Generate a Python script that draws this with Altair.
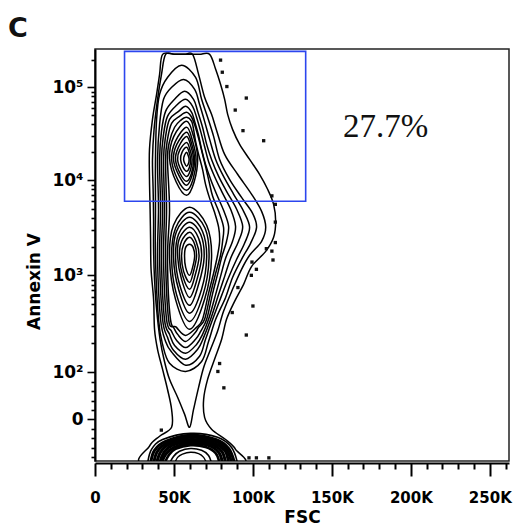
import math
import altair as alt
import pandas as pd

# ---------------- data (FSC in thousands, Annexin V in fluorescence units) ----------------
CLOSED_CONTOURS = {
    "c1": [(42.8, 229000), (50.4, 229000), (59.9, 229000), (66.2, 229000), (72.6, 229000), (76.4, 157000),
           (79.5, 107800), (82.1, 74100), (84.0, 51000), (87.1, 35100), (91.6, 24200), (97.9, 16700),
           (104.2, 11600), (109.3, 8030), (113.1, 5560), (114.4, 3670), (113.1, 2500), (108.1, 1780),
           (99.2, 1240), (94.1, 806), (88.4, 536), (83.3, 350), (80.2, 218), (75.7, 136), (71.3, 85),
           (68.8, 43), (69.4, 4), (73.8, -21), (82.7, -43), (89.0, -64), (91.6, -96), (31.4, -96),
           (34.5, -57), (40.9, -36), (48.5, -17), (48.5, 21), (45.9, 64), (42.8, 107), (39.6, 172),
           (37.7, 276), (37.1, 563), (35.5, 1155), (35.2, 2380), (34.9, 4930), (34.5, 10250),
           (34.5, 21400), (36.4, 45000), (39.0, 83900), (40.9, 138500)],
    "c2": [(44.7, 229000), (50.4, 229000), (56.7, 229000), (61.8, 229000), (65.6, 138500), (69.4, 77900),
           (73.8, 51000), (77.0, 34200), (82.1, 18900), (90.3, 11600), (99.2, 7100), (105.5, 4690),
           (108.1, 3180), (105.5, 2270), (97.9, 1620), (92.8, 1155), (87.1, 715), (81.4, 423),
           (77.6, 263), (73.2, 172), (68.8, 112), (65.6, 68), (62.4, 21), (59.9, -17), (56.7, 11),
           (52.3, 47), (47.2, 85), (44.0, 129), (41.2, 218), (39.0, 444), (37.7, 908), (37.1, 1870),
           (37.1, 3860), (36.8, 8030), (36.4, 16700), (37.4, 35100), (39.6, 74100), (42.1, 138500)],
    "c3": [(54.8, 174000), (63.7, 128000), (67.5, 74100), (71.3, 47400), (75.1, 29500), (78.9, 16700),
           (85.2, 10250), (92.8, 6590), (99.8, 4470), (102.3, 3180), (98.5, 2160), (92.8, 1470),
           (87.1, 951), (82.7, 589), (76.4, 350), (71.9, 207), (67.5, 129), (57.4, 102), (47.2, 124),
           (42.8, 193), (40.2, 350), (38.3, 1470), (38.3, 4930), (38.3, 16700), (39.0, 45000),
           (40.9, 83900), (45.9, 128000)],
    "c4": [(56.1, 122000), (63.1, 95100), (66.2, 65400), (69.4, 42800), (72.6, 27400), (76.4, 16700),
           (81.4, 11000), (87.8, 7100), (94.1, 4690), (97.9, 3180), (94.7, 2160), (89.7, 1470),
           (84.6, 951), (80.2, 619), (74.5, 350), (70.0, 218), (66.2, 146), (57.4, 118), (48.5, 161),
           (44.7, 207), (41.5, 350), (39.6, 1470), (40.2, 4930), (39.6, 16700), (40.9, 39800),
           (43.4, 74100), (48.5, 100000)],
    "c5": [(56.7, 90500), (62.4, 74100), (65.0, 54900), (68.1, 37000), (70.7, 24200), (73.8, 16700),
           (78.3, 11000), (83.3, 7640), (89.7, 4930), (93.5, 3260), (90.9, 2270), (85.9, 1510),
           (82.1, 975), (78.3, 634), (73.2, 350), (68.8, 228), (65.0, 172), (57.4, 136), (49.7, 168),
           (45.9, 228), (42.8, 350), (40.9, 1470), (41.5, 4930), (40.9, 16700), (42.1, 33400),
           (44.7, 54900), (50.4, 74100)],
    "c6": [(57.4, 74100), (61.8, 62200), (64.3, 47400), (66.9, 33400), (69.4, 23000), (71.9, 15900),
           (75.7, 11000), (80.2, 7640), (85.9, 4930), (89.0, 3260), (87.1, 2270), (82.7, 1510),
           (79.5, 975), (76.4, 634), (71.9, 350), (68.1, 245), (64.3, 193), (57.4, 157), (50.4, 188),
           (47.2, 245), (44.0, 350), (42.1, 1470), (42.8, 4930), (42.1, 16700), (43.4, 31000),
           (45.9, 48500), (51.6, 63800)],
    "c7": [(57.4, 62200), (61.2, 53600), (63.1, 42800), (65.6, 30200), (67.5, 21400), (70.0, 14800),
           (73.2, 10250), (77.0, 7100), (81.4, 4810), (84.6, 3260), (83.3, 2270), (80.2, 1540),
           (77.6, 1024), (74.5, 650), (70.7, 350), (66.9, 263), (63.7, 218), (57.4, 179), (51.6, 213),
           (48.5, 263), (45.3, 350), (43.4, 1470), (44.0, 4930), (43.4, 16700), (44.7, 29500),
           (47.2, 45000), (52.9, 54900)],
    "c8": [(58.0, 53600), (61.2, 47400), (63.4, 37900), (65.6, 28100), (67.8, 19900), (70.0, 14100),
           (72.2, 9760), (74.5, 6760), (78.3, 4690), (81.4, 3180), (80.8, 2270), (79.5, 1620),
           (76.4, 1050), (73.2, 650), (69.4, 350), (65.6, 289), (63.1, 251), (57.4, 207), (52.3, 245),
           (49.7, 289), (46.6, 350), (44.7, 1470), (45.3, 4930), (44.7, 16700), (45.9, 27400),
           (48.5, 40800), (53.5, 48500)],
    "c9": [(58.0, 47400), (61.2, 42800), (62.4, 35100), (63.7, 26100), (65.6, 18900), (68.1, 13100),
           (70.0, 9070), (72.6, 6430), (75.7, 4580), (78.3, 3180), (78.9, 2270), (77.6, 1620),
           (75.1, 1050), (71.9, 650), (68.1, 350), (64.3, 289), (57.4, 239), (51.6, 289), (47.8, 350),
           (45.9, 1470), (47.2, 4930), (45.9, 16700), (47.2, 26100), (50.4, 37000), (54.2, 43900)],
    # upper (Annexin-high) population
    "u1": [(58.0, 42800), (62.4, 29500), (65.0, 17100), (62.7, 9530), (58.0, 6930), (51.5, 9530), (47.2, 17100), (49.9, 29500)],
    "u2": [(58.0, 37000), (61.8, 26100), (64.0, 16700), (62.1, 10250), (58.0, 7830), (52.3, 10250), (48.5, 16700), (50.9, 26100)],
    "u3": [(58.0, 32600), (61.3, 24200), (63.1, 16700), (61.5, 11300), (58.0, 8850), (53.1, 11300), (49.7, 16700), (51.8, 24200)],
    "u4": [(58.0, 29500), (60.9, 22500), (62.4, 16700), (61.1, 11900), (58.0, 9760), (53.8, 11900), (51.0, 16700), (52.8, 22500)],
    "u5": [(58.0, 25400), (60.2, 21100), (61.5, 16700), (60.4, 12800), (58.0, 11000), (54.6, 12800), (52.3, 16700), (53.7, 21100)],
    "u6": [(58.0, 22500), (59.6, 19900), (60.5, 16700), (59.8, 13800), (58.0, 12500), (55.7, 13800), (54.2, 16700), (55.1, 19900)],
    "u7": [(58.0, 19900), (59.0, 18400), (59.6, 16700), (59.1, 15000), (58.0, 14100), (56.9, 15000), (56.1, 16700), (56.6, 18400)],
    # lower population
    "l1": [(59.9, 5180), (70.7, 3340), (73.8, 1510), (69.4, 563), (59.9, 276), (51.0, 563), (47.2, 1510), (49.7, 3340)],
    "l2": [(59.9, 4580), (69.7, 3110), (72.2, 1510), (68.5, 634), (59.9, 333), (51.6, 634), (48.5, 1510), (51.0, 3110)],
    "l3": [(59.9, 4060), (68.1, 2880), (70.7, 1540), (67.5, 715), (59.9, 404), (52.9, 715), (49.7, 1540), (51.6, 2880)],
    "l4": [(59.9, 3590), (66.9, 2690), (69.1, 1540), (65.6, 806), (59.9, 488), (53.5, 806), (51.0, 1540), (52.9, 2690)],
    "l5": [(59.9, 3180), (65.6, 2440), (67.5, 1580), (64.6, 908), (59.9, 589), (54.8, 908), (52.3, 1580), (53.5, 2440)],
    "l6": [(59.9, 2830), (64.0, 2270), (65.9, 1580), (63.4, 1000), (59.9, 715), (55.4, 1000), (53.5, 1580), (54.8, 2270)],
    "l7": [(59.9, 2500), (63.1, 2110), (64.3, 1580), (62.4, 1100), (59.9, 843), (56.1, 1100), (54.8, 1580), (56.1, 2110)],
    "l8": [(59.9, 2110), (62.1, 1960), (63.1, 1580), (61.8, 1210), (59.9, 1000), (57.4, 1210), (56.7, 1580), (57.4, 1960)],
}

# events piled up below zero (bottom blob)
OPEN_ARCS = {
    "a1": [(33.3, -94), (35.8, -64), (42.8, -43), (60.5, -30), (77.6, -38), (86.5, -60), (90.3, -94)],
    "a2": [(35.2, -94), (37.7, -66), (44.7, -47), (60.5, -34), (76.4, -43), (84.6, -62), (88.4, -94)],
    "a3": [(37.1, -94), (39.6, -68), (45.9, -50), (60.5, -38), (75.1, -46), (83.3, -64), (86.5, -94)],
    "a4": [(39.0, -94), (41.5, -70), (47.2, -53), (60.5, -43), (73.8, -49), (82.1, -66), (84.6, -94)],
    "a5": [(40.9, -94), (43.4, -72), (48.5, -56), (60.5, -47), (72.6, -52), (80.2, -68), (82.7, -94)],
    "a6": [(42.1, -94), (44.7, -75), (49.7, -60), (60.5, -51), (71.3, -55), (78.3, -70), (80.8, -94)],
    "a7": [(44.0, -94), (46.6, -77), (51.0, -63), (60.5, -55), (70.0, -59), (76.4, -72), (78.9, -94)],
    "a8": [(47.2, -94), (49.7, -79), (53.5, -68), (60.5, -62), (67.5, -66), (71.9, -77), (73.8, -94)],
    "a9": [(50.4, -94), (52.3, -81), (55.4, -74), (60.5, -70), (65.6, -73), (68.8, -81), (70.7, -94)],
}
ARC_WIDTH = {"a1": 1.6, "a2": 3.0, "a3": 3.0, "a4": 3.0, "a5": 3.0, "a6": 3.0, "a7": 2.6, "a8": 1.6, "a9": 1.4}

DOT_FSC = [79.5, 80.6, 83.5, 95.8, 88.8, 93.7, 106.8, 112.0, 114.2, 114.2, 114.2, 112.0, 108.5, 112.7,
           99.4, 102.2, 99.0, 90.5, 100.0, 86.9, 95.8, 78.9, 77.8, 81.6, 42.0, 97.5, 102.2, 110.1]
DOT_ANN = [198000, 146000, 102000, 76500, 56700, 34000, 26500, 6840, 5560, 3610, 2200, 1790, 1900, 1445,
           1375, 1155, 1000, 746, 480, 411, 241, 123, 102, 67, -23, -82, -82, -82]

GATE_FSC = [18.7, 133.4]
GATE_ANN = [6000, 247000]
GATE_TEXT = ["27.7%"]
GATE_TEXT_AT = [184.0, 37000]

X_TICKS = list(range(0, 261, 10))
Y_MAJOR = [(0, "0"), (100, "10²"), (1000, "10³"), (10000, "10⁴"), (100000, "10⁵")]
Y_MINOR = [-80, -60, -40, -20, 20, 40, 60, 80] + \
          [m * 10 ** k for k in (2, 3, 4) for m in range(2, 10)] + [200000]


# ---------------- biexponential-style display scale ----------------
def disp(v):
    if v >= 100:
        u = math.log10(v / 100)
        return (47 + 98 * u - u * u) / 100
    return 0.47 * v / 100


def expr(f):
    L = f"(log(datum.{f}/100)/LN10)"
    return f"datum.{f} >= 100 ? (47 + 98*{L} - {L}*{L})/100 : 0.47*datum.{f}/100"


Y_DOMAIN = [disp(-88.7), disp(262144)]
X_DOMAIN = [0, 262.144]

y_major_d = [disp(v) for v, _ in Y_MAJOR]
y_ticks = sorted(y_major_d + [disp(v) for v in Y_MINOR])
y_label_expr = " : ".join(
    f"abs(datum.value - ({disp(v):.6f})) < 1e-4 ? '{lab}'" for v, lab in Y_MAJOR) + " : ''"
y_major_test = "(" + " || ".join(f"abs(datum.value - ({d:.6f})) < 1e-4" for d in y_major_d) + ")"

FONT = "DejaVu Sans"

x_axis = alt.Axis(
    values=X_TICKS,
    labelExpr="datum.value === 0 ? '0' : (datum.value % 50 === 0 ? datum.value + 'K' : '')",
    tickSize={"condition": {"test": "datum.value % 50 === 0", "value": 13}, "value": 6},
    tickWidth=2, tickColor="black", domainColor="black", domainWidth=2, offset=2,
    labelFont=FONT, labelFontWeight="bold", labelFontSize=15, labelColor="black",
    labelPadding=14, labelOverlap=False, labelFlush=False, grid=False,
    title="FSC", titleFont=FONT, titleFontWeight="bold", titleFontSize=17, titleColor="black",
    titleBaseline="middle", titleY=54,
)
y_axis = alt.Axis(
    values=y_ticks, labelExpr=y_label_expr,
    tickSize={"condition": {"test": y_major_test, "value": 8}, "value": 4},
    tickWidth=1.6, tickColor="black", domainColor="black", domainWidth=2,
    labelFont=FONT, labelFontWeight="bold", labelFontSize=17, labelColor="black",
    labelPadding=4, labelOverlap=False, labelFlush=False, grid=False,
    title="Annexin V", titleFont=FONT, titleFontWeight="bold", titleFontSize=17, titleColor="black",
    titleX=-61, titleY=232, titleBaseline="middle",
)

X = alt.X("fsc:Q", scale=alt.Scale(domain=X_DOMAIN, nice=False, zero=False), axis=x_axis)
Y = alt.Y("yd:Q", scale=alt.Scale(domain=Y_DOMAIN, nice=False, zero=False), axis=y_axis)


def rows(dct, widths=None):
    out = []
    for cid, pts in dct.items():
        for i, (f, a) in enumerate(pts):
            out.append({"cid": cid, "i": i, "fsc": f, "ann": a,
                        "w": (widths or {}).get(cid, 1.5)})
    return pd.DataFrame(out)


closed = alt.Chart(rows(CLOSED_CONTOURS)).transform_calculate(yd=expr("ann")).mark_line(
    interpolate="cardinal-closed", color="#000", strokeWidth=1.5, clip=True
).encode(x=X, y=Y, detail="cid:N", order="i:Q")

arcs = alt.Chart(rows(OPEN_ARCS, ARC_WIDTH)).transform_calculate(yd=expr("ann")).mark_line(
    interpolate="cardinal", color="#000", clip=True
).encode(x=X, y=Y, detail="cid:N", order="i:Q", strokeWidth=alt.StrokeWidth("w:Q", scale=None))

dots = alt.Chart(pd.DataFrame({"fsc": DOT_FSC, "ann": DOT_ANN})).transform_calculate(
    yd=expr("ann")).mark_square(size=11, color="#111", opacity=1, clip=True).encode(x=X, y=Y)

gate = alt.Chart(pd.DataFrame({"fsc": [GATE_FSC[0]], "fsc2": [GATE_FSC[1]],
                               "ann": [GATE_ANN[0]], "ann2": [GATE_ANN[1]]})).transform_calculate(
    yd=expr("ann"), yd2=expr("ann2")).mark_rect(
    filled=False, stroke="#2c46ee", strokeWidth=1.6).encode(x=X, x2="fsc2:Q", y=Y, y2="yd2:Q")

label = alt.Chart(pd.DataFrame({"fsc": [GATE_TEXT_AT[0]], "ann": [GATE_TEXT_AT[1]],
                                "t": GATE_TEXT})).transform_calculate(yd=expr("ann")).mark_text(
    font="Liberation Serif", fontSize=33, align="center", baseline="middle", color="#111"
).encode(x=X, y=Y, text="t:N")

chart = alt.layer(closed, arcs, dots, gate, label).properties(
    width=414, height=412,
    title=alt.TitleParams("C", anchor="start", frame="group", dx=-87, dy=27, offset=12,
                          baseline="alphabetic",
                          font=FONT, fontWeight="bold", fontSize=27, color="#111"),
    autosize=alt.AutoSizeParams(type="none"),
    padding={"left": 95, "top": 49, "right": 7, "bottom": 70},
).configure_view(stroke="#222", strokeWidth=1.5)

chart.save("out.html", embed_options={"renderer": "svg", "actions": False})
